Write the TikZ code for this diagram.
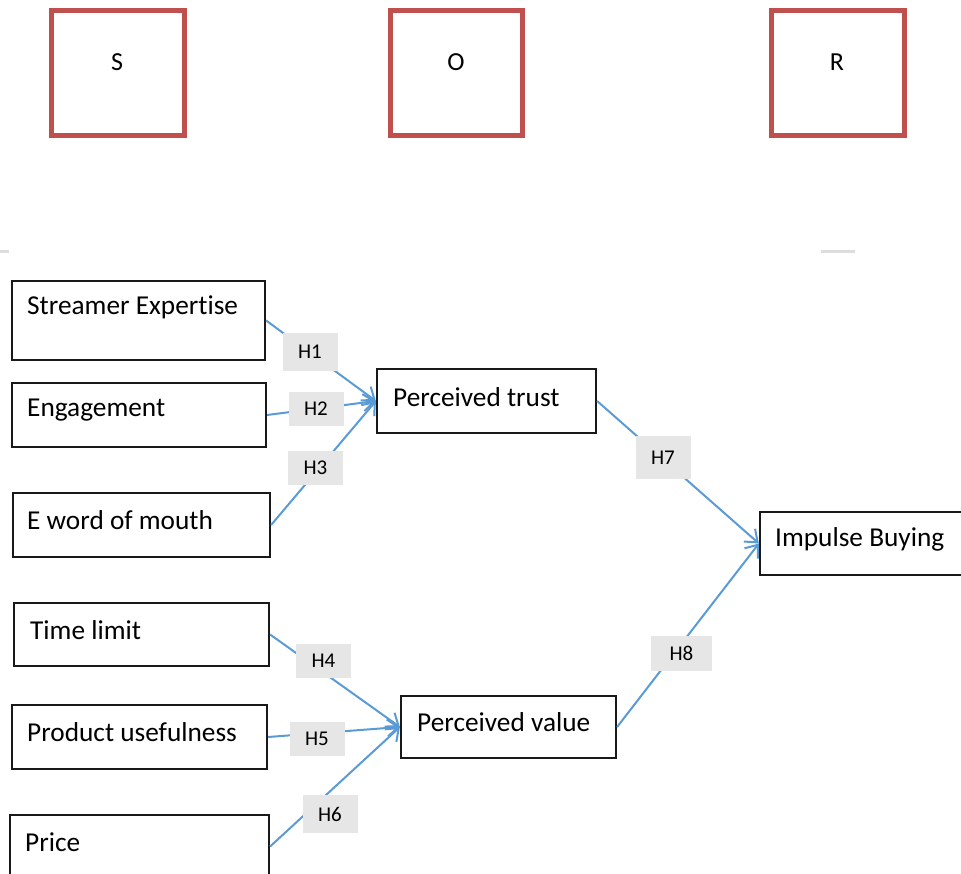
\documentclass[tikz,border=0pt]{standalone}
\usepackage{fontspec}
\setmainfont{Carlito}[Ligatures={NoCommon,NoContextual,NoRequired},Contextuals=NoAlternate]
\usetikzlibrary{arrows.meta}
\definecolor{sorred}{HTML}{C0504D}
\definecolor{arrblue}{HTML}{5B9BD5}
\definecolor{hgray}{HTML}{E6E6E6}
\definecolor{faint}{HTML}{DDDDDD}
\tikzset{
  sorbox/.style={draw=sorred, line width=5pt, rectangle, inner sep=0pt},
  varbox/.style={draw=black!90, line width=2.2pt, rectangle, inner sep=0pt},
  sortext/.style={font=\fontsize{26}{30}\selectfont, inner sep=0pt},
  vartext/.style={font=\fontsize{27.3}{32}\selectfont, anchor=west, inner sep=0pt},
  hyp/.style={fill=hgray, minimum width=55pt, minimum height=36pt, inner sep=0pt, font=\fontsize{21}{24}\selectfont},
  link/.style={draw=arrblue, line width=2pt, -{Straight Barb[length=11pt,width=17pt,line width=2pt]}},
  faintline/.style={draw=faint, line width=3pt}
}
\newcommand{\boxat}[6]{% name, style, x1, y1, x2, y2
  \node[#2, minimum width={(#5-#3)*1pt}, minimum height={(#6-#4)*1pt}] (#1) at ({(#3+#5)/2},{(#4+#6)/2}) {};}
\begin{document}
\begin{tikzpicture}[x=1pt,y=-1pt]
\clip (0,0) rectangle (961,874);
\useasboundingbox (0,0) rectangle (961,874);
% S O R boxes
\boxat{S}{sorbox}{51}{11}{184}{136}
\boxat{O}{sorbox}{390}{11}{522}{136}
\boxat{R}{sorbox}{771}{11}{904}{136}
\node[sortext] (St) at (117,62) {S};
\node[sortext] (Ot) at (456,62) {O};
\node[sortext] (Rt) at (837,62) {R};
% faint lines
\coordinate (fa1) at (0,252); \coordinate (fa2) at (9,252);
\coordinate (fb1) at (821,252); \coordinate (fb2) at (855,252);
\draw[faintline] (fa1) -- (fa2);
\draw[faintline] (fb1) -- (fb2);
% variable boxes
\boxat{SE}{varbox}{12}{281}{265}{360}
\boxat{EN}{varbox}{12}{383}{266}{447}
\boxat{EW}{varbox}{13}{493}{270}{557}
\boxat{TL}{varbox}{14}{603}{269}{666}
\boxat{PU}{varbox}{12}{705}{267}{769}
\boxat{PR}{varbox}{10}{815}{269}{878}
\boxat{PT}{varbox}{377}{369}{596}{433}
\boxat{PV}{varbox}{401}{696}{616}{758}
\boxat{IB}{varbox}{760}{512}{980}{575}
\node[vartext] (SEt) at (27,307) {Streamer Expertise};
\node[vartext] (ENt) at (27,410) {Engagement};
\node[vartext] (EWt) at (27,520) {E word of mouth};
\node[vartext] (TLt) at (30,630) {Time limit};
\node[vartext] (PUt) at (27,732) {Product usefulness};
\node[vartext] (PRt) at (25,842) {Price};
\node[vartext] (PTt) at (393,397) {Perceived trust};
\node[vartext] (PVt) at (417,722) {Perceived value};
\node[vartext] (IBt) at (775,539) {Impulse Buying};
% connectors
\draw[link] (SE.east) -- (PT.west);
\draw[link] (EN.east) -- (PT.west);
\draw[link] (EW.east) -- (PT.west);
\draw[link] (TL.east) -- (PV.west);
\draw[link] (PU.east) -- (PV.west);
\draw[link] (PR.east) -- (PV.west);
\draw[link] (PT.east) -- (IB.west);
\draw[link] (PV.east) -- (IB.west);
% hypothesis labels
\node[hyp, minimum height=38pt] (H1) at (310,352) {H1};
\node[hyp, minimum height=34pt] (H2) at (316,409) {H2};
\node[hyp, minimum height=34pt] (H3) at (315.5,468) {H3};
\node[hyp, minimum height=34pt] (H4) at (323.5,661) {H4};
\node[hyp, minimum height=34pt] (H5) at (317,739) {H5};
\node[hyp, minimum height=38pt] (H6) at (330,814) {H6};
\node[hyp, minimum height=43pt] (H7) at (663,457.5) {H7};
\node[hyp, minimum width=61pt, minimum height=35pt] (H8) at (681.5,653.5) {H8};
\end{tikzpicture}
\end{document}
